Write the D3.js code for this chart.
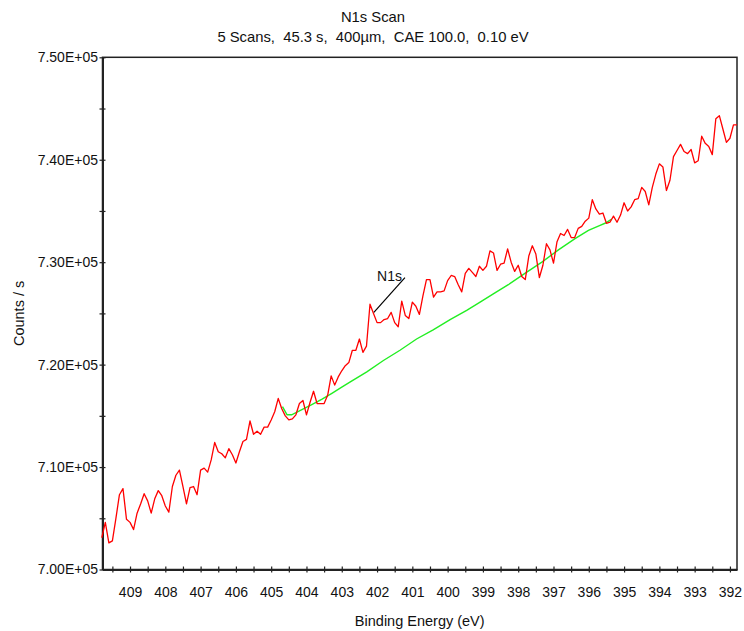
<!DOCTYPE html>
<html>
<head>
<meta charset="utf-8">
<script src="https://cdn.jsdelivr.net/npm/d3@7"></script>
<style>
  body { margin: 0; background: #fff; }
  text { font-family: 'Liberation Sans', Arial, sans-serif; fill: #111; }
</style>
</head>
<body>
<div id="app"></div>
<script>
(function (d3) {

  'use strict'

  // spectrum, one reading every 0.1 eV from 409.8 eV down to 391.8 eV
  const startEnergy = 409.8
  const stepEnergy = 0.1
  const scanCounts = [
    703100, 704600, 702600, 702800, 705000, 707300, 707900, 704900, 704600,
    703900, 705500, 706400, 707400, 706700, 705500, 706900, 707700, 707200, 706200,
    705600, 708100, 709200, 709700, 708100, 706400, 708000, 708100, 707300, 709700,
    709900, 709500, 710700, 712400, 711500, 711300, 710900, 711800, 711200, 710400,
    711500, 712500, 712700, 714500, 713200, 713500, 713200, 713900, 713900, 714600,
    715400, 716700, 715700, 715000, 714600, 714700, 715100, 716200, 716500, 715100,
    716300, 717400, 716200, 716200, 716200, 717000, 718900, 718000, 718800, 719400,
    719900, 720200, 721400, 721400, 722500, 721200, 721800, 725900, 725000, 724100,
    724100, 724400, 724500, 725100, 724100, 723700, 726200, 724800, 724500, 726100,
    725700, 724900, 726700, 728300, 728300, 726600, 727100, 727100, 727200, 728200,
    728700, 728600, 727800, 727100, 728900, 729400, 729000, 728600, 729600, 729200,
    729600, 731100, 730900, 729200, 729800, 729900, 731300, 730000, 729100, 729700,
    728600, 728300, 730600, 731600, 730800, 728500, 729700, 731800, 731200, 729900,
    732000, 732800, 732600, 733200, 732400, 732400, 733300, 733500, 734000, 734300,
    736100, 735200, 734700, 734800, 733800, 733900, 734500, 733900, 734600, 735800,
    735000, 735400, 736100, 736200, 737300, 736900, 735600, 737300, 738600, 739600,
    739300, 737000, 738000, 740300, 740900, 741500, 740800, 740600, 741000, 739700,
    739900, 742300, 741600, 741300, 740500, 744000, 744300, 743000, 741700, 742100,
    743400, 743400
  ]

  // background under the N1s region
  const bgEnergy = [404.68, 404.55, 404.42, 404.13, 403.85, 403.57, 403.28, 403.0, 402.77,
    402.29, 401.82, 401.35, 400.88, 400.41, 399.93, 399.46, 399.08, 398.66, 398.28,
    397.81, 397.33, 396.86, 396.39, 396.01, 395.68, 395.54, 395.35]
  const bgCounts = [715900, 715100, 715100, 715600, 716100, 716600, 717200, 717800, 718300,
    719300, 720400, 721400, 722500, 723400, 724400, 725300, 726100, 727000, 727800,
    728900, 730000, 731200, 732300, 733100, 733600, 733800, 734200]

  // peak label: text anchor and leader line ends
  const peakLabel = 'N1s'
  const labelAt = [402.0, 728200]
  const leaderFrom = [402.09, 725100]
  const leaderTo = [401.21, 728500]

  const xDomain = [409.78, 391.8]
  const yDomain = [700000, 750000]
  const xTicks = d3.range(392, 410, 0.5)
  const yTicks = d3.range(700000, 750001, 5000)

  const title = 'N1s Scan'
  const subtitle = '5 Scans,  45.3 s,  400µm,  CAE 100.0,  0.10 eV'
  const xTitle = 'Binding Energy (eV)'
  const yTitle = 'Counts / s'

  const width = 744
  const height = 631
  const margin = { top: 57.3, right: 7, bottom: 61.5, left: 102.5 }
  const w = width - margin.left - margin.right
  const h = height - margin.top - margin.bottom

  const svg = d3.select('#app')
    .append('svg')
    .attr('width', width)
    .attr('height', height)

  // titles
  svg.append('text')
    .attr('x', 373)
    .attr('y', 22)
    .attr('text-anchor', 'middle')
    .style('font-size', '14.8px')
    .text(title)
  svg.append('text')
    .attr('x', 373)
    .attr('y', 42)
    .attr('text-anchor', 'middle')
    .style('font-size', '14.8px')
    .style('white-space', 'pre')
    .text(subtitle)

  const g = svg.append('g')
    .attr('transform', 'translate(' + margin.left + ',' + margin.top + ')')

  const xScale = d3.scaleLinear().domain(xDomain).range([0, w])
  const yScale = d3.scaleLinear().domain(yDomain).range([h, 0])

  // frame
  g.append('rect')
    .attr('width', w)
    .attr('height', h)
    .attr('fill', 'none')
    .attr('stroke', '#222')
    .attr('stroke-width', 1.5)

  // x axis, ticks every 0.5 eV, labels on whole eV
  const xAxis = d3.axisBottom(xScale)
    .tickValues(xTicks)
    .tickSizeInner(3)
    .tickSizeOuter(0)
    .tickPadding(14.5)
    .tickFormat(function (d) { return d % 1 === 0 ? d : '' })
  const gx = g.append('g')
    .attr('transform', 'translate(0,' + h + ')')
    .call(xAxis)
  gx.select('.domain').attr('stroke', '#222').attr('stroke-width', 2)
  gx.selectAll('.tick line').attr('y1', -3).attr('stroke', '#222').attr('stroke-width', 1.2)
  gx.selectAll('.tick text').style('font-size', '14px').attr('fill', '#111')

  // y axis, ticks every 5000, labels every 10000
  const yAxis = d3.axisLeft(yScale)
    .tickValues(yTicks)
    .tickSizeInner(3)
    .tickSizeOuter(0)
    .tickPadding(1.5)
    .tickFormat(function (d) {
      return d % 10000 === 0 ? (d / 1e5).toFixed(2) + 'E+05' : ''
    })
  const gy = g.append('g').call(yAxis)
  gy.select('.domain').attr('stroke', '#222').attr('stroke-width', 2)
  gy.selectAll('.tick line').attr('x1', 3).attr('stroke', '#222').attr('stroke-width', 1.2)
  gy.selectAll('.tick text').style('font-size', '14px').attr('fill', '#111')

  // axis titles
  svg.append('text')
    .attr('x', margin.left + w / 2)
    .attr('y', 626)
    .attr('text-anchor', 'middle')
    .style('font-size', '14.5px')
    .text(xTitle)
  svg.append('text')
    .attr('transform', 'translate(24,' + (margin.top + h / 2) + ') rotate(-90)')
    .attr('text-anchor', 'middle')
    .style('font-size', '14.5px')
    .text(yTitle)

  const scan = scanCounts.map(function (c, i) {
    return [startEnergy - i * stepEnergy, c]
  })
  const background = bgEnergy.map(function (e, i) { return [e, bgCounts[i]] })

  const line = d3.line()
    .x(function (d) { return xScale(d[0]) })
    .y(function (d) { return yScale(d[1]) })

  g.append('path')
    .datum(background)
    .attr('fill', 'none')
    .attr('stroke', '#22ee22')
    .attr('stroke-width', 1.4)
    .attr('d', line)

  g.append('path')
    .datum(scan)
    .attr('fill', 'none')
    .attr('stroke', '#ff0000')
    .attr('stroke-width', 1.3)
    .attr('stroke-linejoin', 'round')
    .attr('d', line)

  // peak label with leader line
  g.append('line')
    .attr('x1', xScale(leaderFrom[0]))
    .attr('y1', yScale(leaderFrom[1]))
    .attr('x2', xScale(leaderTo[0]))
    .attr('y2', yScale(leaderTo[1]))
    .attr('stroke', '#000')
    .attr('stroke-width', 1.2)
  g.append('text')
    .attr('x', xScale(labelAt[0]))
    .attr('y', yScale(labelAt[1]))
    .style('font-size', '14px')
    .text(peakLabel)

})(d3)
</script>
</body>
</html>
